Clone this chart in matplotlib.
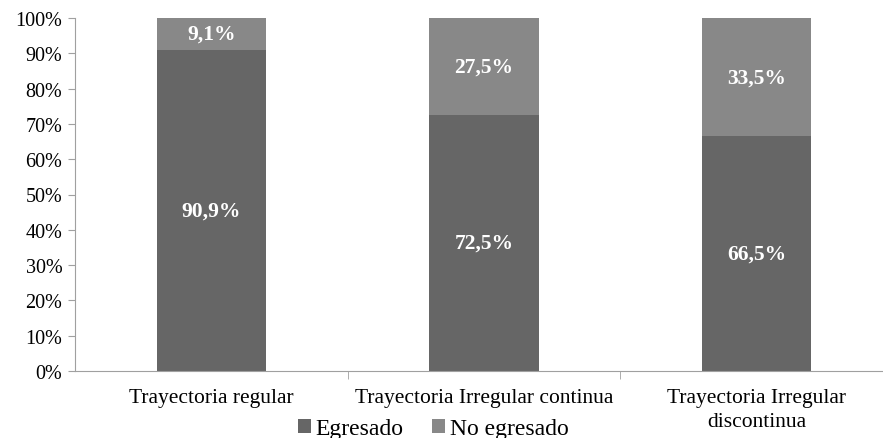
import numpy as np
import matplotlib.pyplot as plt

# datos
categorias = ['Trayectoria regular', 'Trayectoria Irregular continua', 'Trayectoria Irregular\ndiscontinua']
egresado = [90.9, 72.5, 66.5]
no_egresado = [9.1, 27.5, 33.5]
series = ['Egresado', 'No egresado']
yticks = np.arange(0, 101, 10)

plt.rcParams['font.family'] = ['Liberation Serif', 'DejaVu Serif']

fig = plt.figure(figsize=(8.83, 4.39), dpi=100)
ax = fig.add_axes([75/883, 1-372/439, 818/883, 353/439])

x = np.arange(len(categorias))
c1 = '#666666'
c2 = '#888888'
b1 = ax.bar(x, egresado, width=0.4, color=c1, label=series[0])
b2 = ax.bar(x, no_egresado, width=0.4, bottom=egresado, color=c2, label=series[1])

for i in range(len(x)):
    ax.text(x[i], egresado[i]/2, ('%.1f%%' % egresado[i]).replace('.', ','),
            ha='center', va='center', color='white', fontsize=15.5, fontweight='bold')
    ax.text(x[i], egresado[i] + no_egresado[i]/2, ('%.1f%%' % no_egresado[i]).replace('.', ','),
            ha='center', va='center', color='white', fontsize=15.5, fontweight='bold')

ax.set_xlim(-0.5, 2.5)
ax.set_ylim(0, 100)
ax.set_yticks(yticks)
ax.set_yticklabels(['%d%%' % v for v in yticks], fontsize=14.5)
ax.set_xticks(x)
ax.set_xticklabels(categorias, fontsize=15.5, linespacing=1.35)
ax.tick_params(axis='x', length=0, pad=12)
ax.set_xticks([0.5, 1.5], minor=True)
ax.tick_params(axis='x', which='minor', length=6, color='#a0a0a0')
ax.tick_params(axis='y', length=5, color='#a0a0a0', pad=4)

for s in ['top', 'right']:
    ax.spines[s].set_visible(False)
ax.spines['left'].set_color('#a0a0a0')
ax.spines['bottom'].set_color('#a0a0a0')

fig.legend(loc='center', bbox_to_anchor=(433/883, 1-430/439), ncol=2, frameon=False,
           prop={'family': 'Liberation Serif', 'size': 17},
           handlelength=0.55, handleheight=0.55, handletextpad=0.2, columnspacing=1.2)

fig.savefig('out.png', dpi=100)
